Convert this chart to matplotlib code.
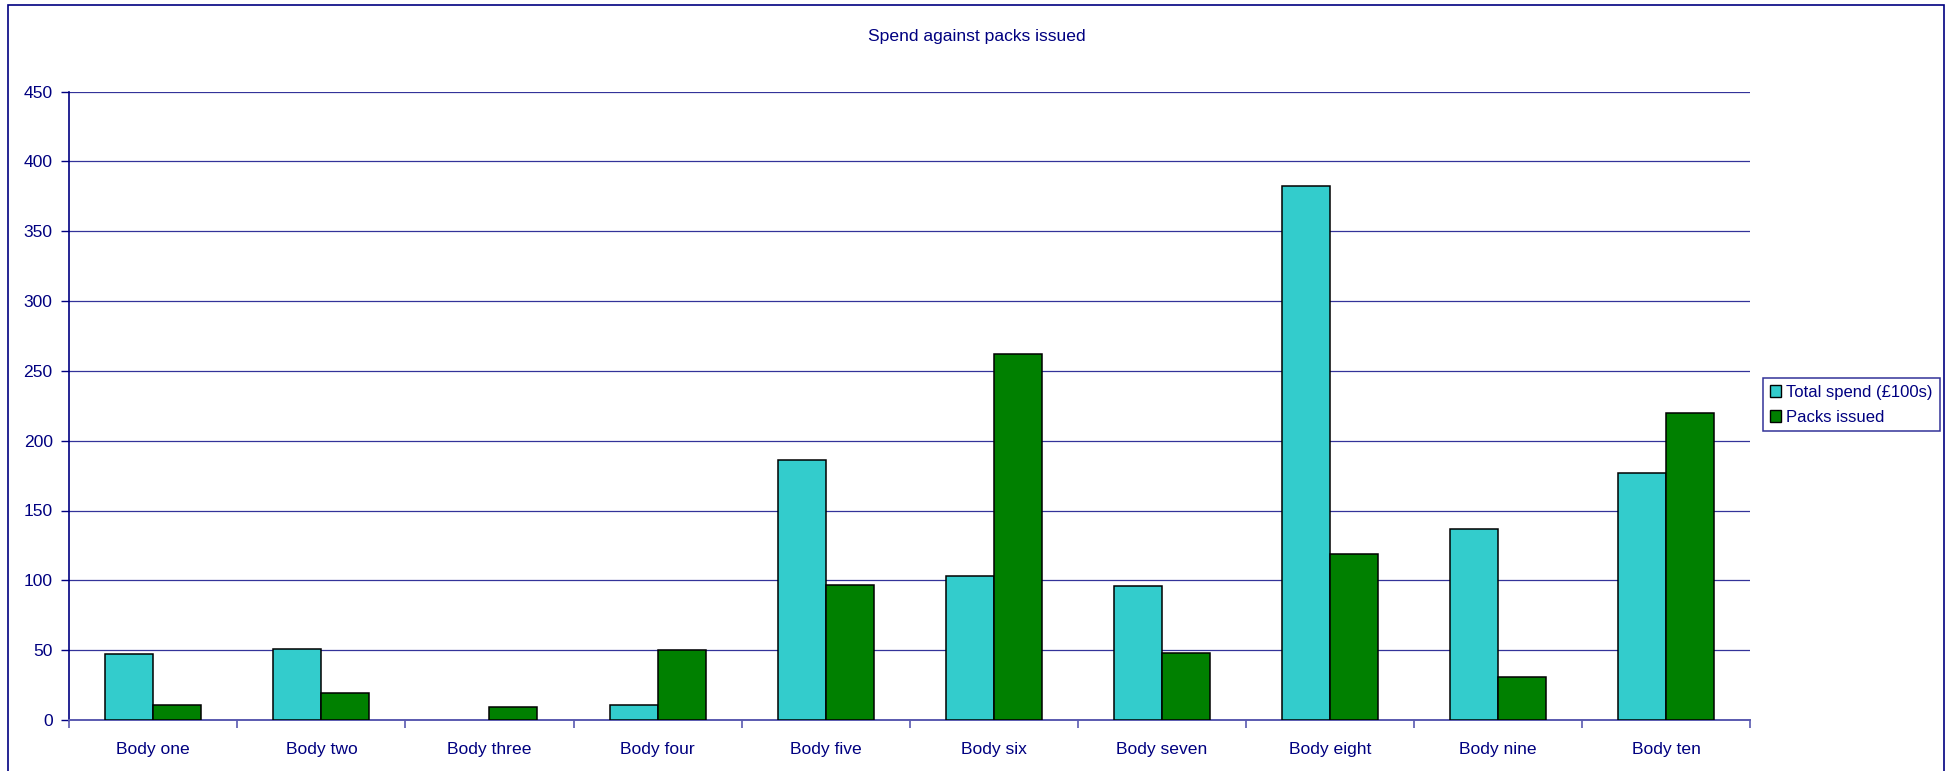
import numpy as np
import matplotlib.pyplot as plt
from matplotlib.patches import Rectangle, Patch

plt.rcParams['font.family'] = ['Liberation Sans', 'DejaVu Sans']

bodies = ["Body one", "Body two", "Body three", "Body four", "Body five",
          "Body six", "Body seven", "Body eight", "Body nine", "Body ten"]
total_spend = [47, 51, 0, 11, 186, 103, 96, 382, 137, 177]
packs_issued = [11, 19, 9, 50, 97, 262, 48, 119, 31, 220]
series_names = ["Total spend (£100s)", "Packs issued"]

navy = '#000080'
cyan = '#33CCCC'
green = '#008000'
fs = 12.6

fig = plt.figure(figsize=(19.54, 7.71), dpi=100)
W, H = 1954, 771
ax = fig.add_axes([69.3 / W, 1 - 720 / H, (1750 - 69.3) / W, (720 - 91.5) / H])

# outer chart border
fig.patches.append(Rectangle((8 / W, -0.05), (1944 - 8) / W, 1 - 5 / H + 0.05,
                             transform=fig.transFigure, fill=False,
                             edgecolor=navy, lw=1.2))

x = np.arange(len(bodies))
bw = 1 / 3.5
# no outline on empty bars
lw_spend = [1.1 if v > 0 else 0 for v in total_spend]
lw_packs = [1.1 if v > 0 else 0 for v in packs_issued]
ax.bar(x - bw / 2, total_spend, width=bw, color=cyan, edgecolor='black',
       linewidth=lw_spend, zorder=3)
ax.bar(x + bw / 2, packs_issued, width=bw, color=green, edgecolor='black',
       linewidth=lw_packs, zorder=3)

ax.set_xlim(-0.5, len(bodies) - 0.5)
ax.set_ylim(0, 450)
ax.set_yticks(np.arange(0, 451, 50))
ax.yaxis.grid(True, color=navy, lw=0.9, alpha=0.8, zorder=0)
ax.set_axisbelow(True)

# category labels centred, ticks on the boundaries
ax.set_xticks(x)
ax.set_xticklabels(bodies, fontsize=fs, color=navy)
ax.set_xticks(np.arange(-0.5, len(bodies)), minor=True)
ax.tick_params(axis='x', which='major', length=0, pad=16)
ax.tick_params(axis='x', which='minor', length=6, width=1.2, color='#5a5ab0',
               direction='out')
ax.tick_params(axis='y', length=6, width=1, color=navy, labelsize=fs,
               labelcolor=navy, pad=6)

for s in ['top', 'right']:
    ax.spines[s].set_visible(False)
ax.spines['left'].set_color(navy)
ax.spines['left'].set_lw(1.2)
ax.spines['bottom'].set_color('#5a5ab0')
ax.spines['bottom'].set_lw(1.4)

fig.text(0.5, 1 - 37 / H, "Spend against packs issued", ha='center',
         va='center', fontsize=fs, color=navy)

handles = [Patch(facecolor=cyan, edgecolor='black', lw=1),
           Patch(facecolor=green, edgecolor='black', lw=1)]
leg = fig.legend(handles, series_names, loc='upper left',
                 bbox_to_anchor=(1763 / W, 1 - 378 / H), fontsize=12,
                 frameon=True, fancybox=False, handlelength=0.7,
                 handleheight=0.7, handletextpad=0.3, borderpad=0.4,
                 labelspacing=0.6, borderaxespad=0, labelcolor=navy)
leg.get_frame().set_edgecolor(navy)
leg.get_frame().set_linewidth(1.1)

fig.savefig('out.png', dpi=100)
